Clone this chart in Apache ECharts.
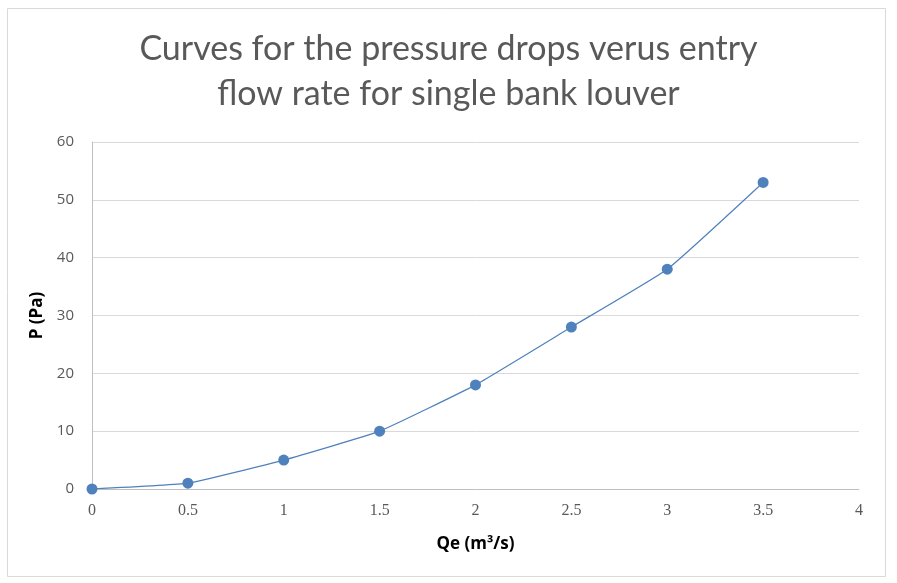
<!DOCTYPE html>
<html>
<head>
<meta charset="utf-8">
<script src="https://cdn.jsdelivr.net/npm/echarts@6/dist/echarts.min.js"></script>
<style>
	html, body { margin: 0; padding: 0; background: #fff; }
	#chart { width: 897px; height: 583px; }
</style>
</head>
<body>
<div id="chart"></div>
<script>
	// Qe (m3/s) vs pressure drop P (Pa)
	var flowRates = [0, 0.5, 1, 1.5, 2, 2.5, 3, 3.5];
	var pressures = [0, 1, 5, 10, 18, 28, 38, 53];

	var chart = echarts.init(document.getElementById('chart'));

	var points = flowRates.map(function (q, i) {
		return [q, pressures[i]];
	});

	var option = {
		backgroundColor: '#fff',
		graphic: [{
			type: 'rect',
			shape: { x: 7.5, y: 8.5, width: 878, height: 568 },
			style: { fill: 'none', stroke: '#d9d9d9', lineWidth: 1 },
			silent: true
		}],
		title: {
			text: 'Curves for the pressure drops verus entry\nflow rate for single bank louver',
			left: 'center',
			top: 22,
			textStyle: {
				color: '#595959',
				fontFamily: 'Lato',
				fontSize: 34,
				fontWeight: 'normal',
				lineHeight: 45
			}
		},
		grid: {
			left: 92,
			right: 38,
			top: 142,
			bottom: 94
		},
		xAxis: {
			type: 'value',
			min: 0,
			max: 4,
			interval: 0.5,
			name: 'Qe (m³/s)',
			nameLocation: 'middle',
			nameGap: 47,
			nameTextStyle: {
				color: '#000',
				fontFamily: 'Open Sans',
				fontSize: 17,
				fontWeight: 'bold'
			},
			axisLine: { show: true, lineStyle: { color: '#bfbfbf' } },
			axisTick: { show: false },
			splitLine: { show: false },
			axisLabel: {
				color: '#595959',
				fontFamily: 'Liberation Serif',
				fontSize: 16,
				margin: 14
			}
		},
		yAxis: {
			type: 'value',
			min: 0,
			max: 60,
			interval: 10,
			name: 'P (Pa)',
			nameLocation: 'middle',
			nameGap: 46,
			nameTextStyle: {
				color: '#000',
				fontFamily: 'Open Sans',
				fontSize: 17,
				fontWeight: 'bold'
			},
			axisLine: { show: true, lineStyle: { color: '#bfbfbf' } },
			axisTick: { show: false },
			splitLine: { show: true, lineStyle: { color: '#d9d9d9' } },
			axisLabel: {
				color: '#595959',
				fontFamily: 'Open Sans',
				fontSize: 15,
				margin: 18
			}
		},
		series: [{
			type: 'line',
			data: points,
			smooth: 0.12,
			symbol: 'circle',
			symbolSize: 11,
			itemStyle: { color: '#4f81bd' },
			lineStyle: { color: '#4f81bd', width: 1.2 }
		}]
	};

	chart.setOption(option);

	window.onresize = function () {
		chart.resize();
	};
</script>
</body>
</html>
